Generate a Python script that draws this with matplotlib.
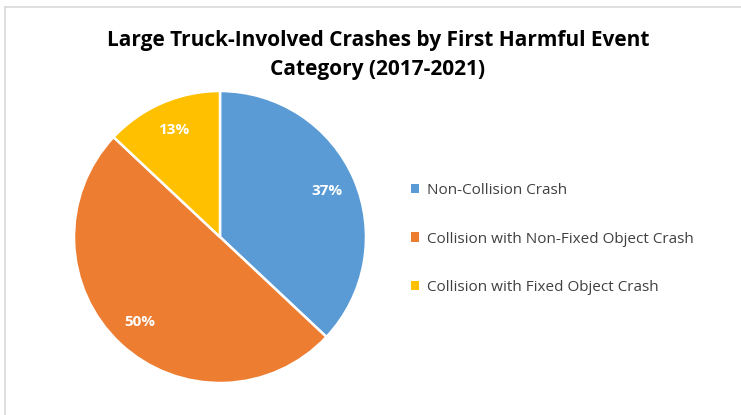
import matplotlib
matplotlib.use("Agg")
import matplotlib.pyplot as plt
from matplotlib.lines import Line2D
from matplotlib.patches import Patch

categories = ["Non-Collision Crash", "Collision with Non-Fixed Object Crash", "Collision with Fixed Object Crash"]
values = [37, 50, 13]
colors = ["#5B9BD5", "#ED7D31", "#FFC000"]
title = "Large Truck-Involved Crashes by First Harmful Event\nCategory (2017-2021)"

W, H = 741, 415
fig = plt.figure(figsize=(W/100, H/100), dpi=100)
font = "Open Sans"

# border lines (top and left)
fig.add_artist(Line2D([5/W, 1], [1-7/H, 1-7/H], color="#D9D9D9", lw=1.2, transform=fig.transFigure))
fig.add_artist(Line2D([5/W, 5/W], [0, 1-7/H], color="#D9D9D9", lw=1.2, transform=fig.transFigure))

cx, cy, r = 220, 237, 146
ax = fig.add_axes([(cx-r)/W, 1-(cy+r)/H, 2*r/W, 2*r/H])
wedges, texts, autotexts = ax.pie(values, colors=colors, startangle=90, counterclock=False,
       autopct="%d%%", pctdistance=0.8,
       wedgeprops=dict(edgecolor="white", linewidth=1.8),
       textprops=dict(color="white", fontsize=11, fontweight="bold", family=font))
ax.set_aspect("equal")
ax.set_xlim(-1, 1); ax.set_ylim(-1, 1)

fig.text(378/W, 1-55/H, title, ha="center", va="center", fontsize=15, fontweight="bold",
         family=font, linespacing=1.45, color="#000000")

handles = [Patch(facecolor=c, edgecolor="none") for c in colors]
leg = fig.legend(handles, categories, loc="center left", bbox_to_anchor=(397/W, 1-239/H),
                 frameon=False, prop=dict(family=font, size=11), labelspacing=2.2,
                 handlelength=0.55, handleheight=0.55, handletextpad=0.5, labelcolor="#404040")

fig.savefig("out.png", dpi=100)
